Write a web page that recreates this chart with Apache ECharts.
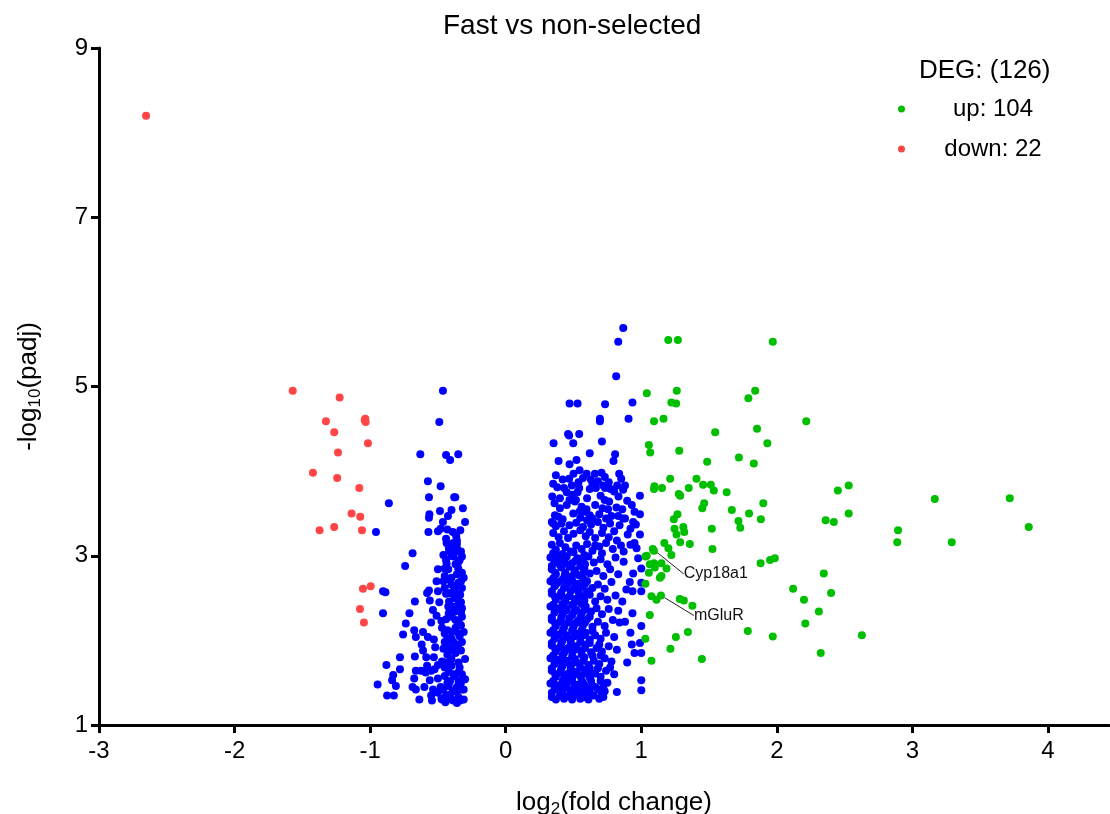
<!DOCTYPE html>
<html>
<head>
<meta charset="utf-8">
<title>Fast vs non-selected</title>
<script src="https://cdn.jsdelivr.net/npm/echarts@6/dist/echarts.min.js"></script>
<style>
html, body { margin: 0; padding: 0; background: #fff; }
#chart { width: 1110px; height: 814px; }
</style>
</head>
<body>
<div id="chart"></div>
<script>
// axis ticks
const xTicks = [-3, -2, -1, 0, 1, 2, 3, 4];
const yTicks = [1, 3, 5, 7, 9];

const upLabel = 'up: 104';
const downLabel = 'down: 22';
const degTitle = 'DEG: (126)';

// significant down-regulated (red)
const downPoints = [
    [-2.653, 8.20], [-1.571, 4.95], [-1.225, 4.87], [-1.326, 4.59], [-1.036, 4.62], [-1.033, 4.58],
    [-1.040, 4.60], [-1.265, 4.46], [-1.016, 4.33], [-1.237, 4.22], [-1.422, 3.98], [-1.243, 3.92],
    [-1.080, 3.80], [-1.137, 3.50], [-1.073, 3.46], [-1.265, 3.34], [-1.373, 3.30], [-1.060, 3.30],
    [-1.053, 2.61], [-0.996, 2.64], [-1.075, 2.37], [-1.046, 2.21]
];

// significant up-regulated (green)
const upPoints = [
    [1.199, 5.55], [1.27, 5.55], [1.97, 5.53], [1.041, 4.92], [1.262, 4.95], [1.84, 4.95], [1.79, 4.86],
    [1.222, 4.81], [1.257, 4.80], [1.094, 4.59], [1.164, 4.62], [2.217, 4.59], [1.545, 4.46], [1.854, 4.50],
    [1.93, 4.33], [1.056, 4.31], [1.066, 4.22], [1.28, 4.24], [1.72, 4.16], [1.83, 4.09], [1.486, 4.11],
    [1.213, 3.91], [1.407, 3.91], [1.097, 3.82], [1.094, 3.79], [1.153, 3.80], [1.277, 3.73], [1.287, 3.71],
    [1.35, 3.80], [1.456, 3.84], [1.513, 3.84], [1.535, 3.77], [1.63, 3.75], [2.45, 3.77], [2.53, 3.83],
    [1.90, 3.62], [1.464, 3.62], [1.45, 3.56], [1.267, 3.49], [1.24, 3.43], [1.245, 3.32], [1.26, 3.25],
    [1.31, 3.34], [1.317, 3.28], [1.668, 3.54], [1.795, 3.50], [1.717, 3.41], [1.73, 3.33], [1.882, 3.43],
    [2.36, 3.42], [2.42, 3.40], [2.53, 3.50], [2.894, 3.30], [2.888, 3.16], [1.52, 3.32], [1.287, 3.16],
    [1.358, 3.14], [1.525, 3.08], [1.17, 3.15], [1.20, 3.09], [1.222, 3.01], [1.093, 3.06], [1.03, 2.99],
    [1.063, 2.90], [1.094, 2.91], [1.149, 2.91], [1.186, 2.85], [1.056, 2.80], [1.149, 2.76], [1.137, 2.74],
    [1.88, 2.91], [1.95, 2.95], [1.985, 2.97], [2.346, 2.79], [1.03, 2.67], [2.12, 2.61], [2.20, 2.48],
    [2.40, 2.56], [2.31, 2.34], [2.21, 2.20], [2.627, 2.06], [1.075, 2.52], [1.112, 2.48], [1.284, 2.49],
    [1.314, 2.47], [1.377, 2.41], [1.063, 2.30], [1.03, 2.02], [1.255, 2.04], [1.344, 2.10], [1.786, 2.11],
    [1.97, 2.045], [1.215, 1.90], [1.075, 1.76], [1.447, 1.78], [2.324, 1.85], [3.718, 3.68], [3.858, 3.34],
    [3.165, 3.67], [3.29, 3.16], [1.04, 3.00], [1.10, 2.86]
];

// labelled genes (also up-regulated)
const geneNames = ['Cyp18a1', 'mGluR'];
const genePoints = [[1.085, 3.08], [1.145, 2.53]];

// not significant, negative fold change (blue)
const nsLeft = [
    [-0.463, 4.95], [-0.49, 4.58], [-0.63, 4.20], [-0.44, 4.19], [-0.41, 4.13], [-0.35, 4.20], [-0.574, 3.88],
    [-0.48, 3.82], [-0.566, 3.69], [-0.38, 3.69], [-0.372, 3.69], [-0.862, 3.62], [-0.485, 3.53], [-0.40, 3.54],
    [-0.316, 3.56], [-0.563, 3.49], [-0.566, 3.45], [-0.426, 3.47], [-0.30, 3.40], [-0.463, 3.40], [-0.957, 3.28],
    [-0.57, 3.28], [-0.50, 3.29], [-0.48, 3.32], [-0.43, 3.31], [-0.39, 3.28], [-0.365, 3.23], [-0.335, 3.30],
    [-0.42, 3.11], [-0.398, 3.08], [-0.36, 3.14], [-0.365, 3.05], [-0.418, 3.05],
    [-0.436, 3.15], [-0.386, 3.15], [-0.36, 3.09], [-0.418, 3.09], [-0.46, 3.01], [-0.386, 2.99], [-0.323, 2.99],
    [-0.348, 2.93], [-0.436, 2.91], [-0.687, 3.03], [-0.742, 2.88], [-0.50, 2.84], [-0.424, 2.84], [-0.36, 2.78],
    [-0.323, 2.80], [-0.31, 2.74], [-0.40, 2.74], [-0.45, 2.76], [-0.51, 2.70], [-0.40, 2.66], [-0.348, 2.68],
    [-0.45, 2.62], [-0.323, 2.62], [-0.375, 2.58], [-0.336, 2.54], [-0.905, 2.58], [-0.887, 2.57], [-0.566, 2.59],
    [-0.58, 2.56], [-0.50, 2.58], [-0.56, 2.47], [-0.67, 2.46], [-0.418, 2.46], [-0.348, 2.46], [-0.424, 2.40],
    [-0.323, 2.38], [-0.373, 2.34], [-0.398, 2.28], [-0.323, 2.28], [-0.348, 2.22], [-0.537, 2.36], [-0.51, 2.29],
    [-0.474, 2.23], [-0.55, 2.21], [-0.905, 2.32], [-0.71, 2.32], [-0.737, 2.20], [-0.757, 2.07], [-0.675, 2.12],
    [-0.663, 2.04], [-0.61, 2.10], [-0.574, 2.04], [-0.53, 2.01], [-0.45, 2.08], [-0.398, 2.10], [-0.348, 2.08],
    [-0.31, 2.10], [-0.45, 1.98], [-0.386, 1.98], [-0.323, 1.98], [-0.41, 1.90], [-0.348, 1.90], [-0.46, 1.90],
    [-0.61, 1.88], [-0.586, 1.80], [-0.53, 1.80], [-0.67, 1.81], [-0.78, 1.80], [-0.50, 1.71], [-0.436, 1.74],
    [-0.348, 1.74], [-0.30, 1.78], [-0.40, 1.78], [-0.88, 1.71], [-0.78, 1.66], [-0.663, 1.64], [-0.624, 1.64],
    [-0.59, 1.62], [-0.55, 1.64], [-0.525, 1.66], [-0.83, 1.59], [-0.838, 1.53], [-0.675, 1.55], [-0.56, 1.53],
    [-0.45, 1.58], [-0.386, 1.60], [-0.323, 1.60], [-0.41, 1.52], [-0.348, 1.52], [-0.30, 1.54], [-0.945, 1.48],
    [-0.81, 1.46], [-0.687, 1.45], [-0.663, 1.42], [-0.536, 1.42], [-0.46, 1.42], [-0.42, 1.46], [-0.36, 1.45],
    [-0.323, 1.42], [-0.50, 1.38], [-0.875, 1.35], [-0.825, 1.35], [-0.637, 1.30], [-0.544, 1.29], [-0.474, 1.31],
    [-0.424, 1.33], [-0.386, 1.29], [-0.336, 1.29], [-0.31, 1.42], [-0.445, 1.27], [-0.36, 1.26],
    [-0.44, 3.20], [-0.36, 3.18], [-0.40, 3.00], [-0.33, 3.05], [-0.44, 2.95], [-0.37, 2.90], [-0.42, 2.72],
    [-0.33, 2.70], [-0.38, 2.50], [-0.44, 2.55], [-0.33, 2.45], [-0.41, 2.36], [-0.35, 2.40], [-0.44, 2.25],
    [-0.37, 2.15], [-0.43, 2.12], [-0.33, 2.18], [-0.40, 2.02], [-0.34, 2.05], [-0.44, 1.96], [-0.37, 1.85],
    [-0.43, 1.83], [-0.33, 1.88], [-0.40, 1.70], [-0.34, 1.68], [-0.45, 1.68], [-0.38, 1.58], [-0.43, 1.50],
    [-0.33, 1.50], [-0.39, 1.40], [-0.44, 1.35], [-0.35, 1.33], [-0.40, 1.30], [-0.47, 1.30], [-0.48, 1.45],
    [-0.50, 1.55], [-0.47, 1.75], [-0.52, 1.92], [-0.47, 2.15], [-0.49, 2.45], [-0.46, 2.70], [-0.55, 1.35],
    [-0.60, 1.45], [-0.58, 1.70], [-0.62, 1.95],
    [-0.34, 2.95], [-0.38, 2.62], [-0.42, 2.32], [-0.36, 1.95], [-0.42, 1.63], [-0.36, 1.40], [-0.31, 1.30],
    [-0.45, 2.85], [-0.39, 3.10], [-0.35, 2.85], [-0.41, 2.56], [-0.37, 2.24], [-0.39, 1.88], [-0.35, 1.62],
    [-0.41, 1.36], [-0.33, 2.33], [-0.39, 2.40], [-0.43, 2.02]
];

// not significant, positive fold change (blue)
const nsRight = [
    [0.867, 5.69], [0.83, 5.53], [0.815, 5.12], [0.471, 4.80], [0.53, 4.80], [0.733, 4.79], [0.935, 4.81],
    [0.695, 4.62], [0.695, 4.59], [0.906, 4.62], [0.46, 4.44], [0.468, 4.42], [0.542, 4.44], [0.353, 4.33],
    [0.498, 4.33], [0.71, 4.35], [0.62, 4.21], [0.807, 4.20], [0.795, 4.12], [0.39, 4.12], [0.471, 4.08],
    [0.522, 4.13], [0.545, 4.01], [0.597, 3.97], [0.658, 3.97], [0.707, 3.98], [0.731, 3.93], [0.837, 3.97],
    [0.852, 3.91], [0.468, 3.91], [0.628, 3.90], [0.537, 3.87], [0.38, 3.81], [0.43, 3.80], [0.488, 3.83],
    [0.542, 3.80], [0.62, 3.79], [0.665, 3.80], [0.719, 3.83], [0.733, 3.80], [0.773, 3.79], [0.822, 3.83],
    [0.866, 3.78], [0.343, 3.70], [0.493, 3.72], [0.518, 3.66], [0.53, 3.75], [0.70, 3.71], [0.763, 3.64],
    [0.832, 3.70], [0.896, 3.65], [0.99, 3.71], [0.363, 3.48], [0.388, 3.46], [0.498, 3.50], [0.547, 3.53],
    [0.596, 3.55], [0.62, 3.48], [0.714, 3.56], [0.755, 3.55], [0.817, 3.57], [0.866, 3.44], [0.99, 3.49],
    [0.51, 3.64], [0.56, 3.58], [0.58, 3.52], [0.45, 3.60], [0.40, 3.56], [0.36, 3.62], [0.66, 3.60],
    [0.69, 3.49], [0.78, 3.47], [0.64, 3.44], [0.60, 3.42], [0.55, 3.45], [0.42, 3.43], [0.35, 3.38],
    [0.37, 3.95], [0.42, 3.90], [0.50, 3.97], [0.57, 3.92], [0.64, 3.85], [0.68, 3.88], [0.76, 3.87],
    [0.80, 3.76], [0.88, 3.83], [0.93, 3.60], [0.35, 3.85], [0.45, 3.75], [0.60, 3.68], [0.73, 3.66],
    [0.86, 3.55], [0.95, 3.52], [0.40, 3.68], [0.47, 3.66],
    [0.34, 3.40], [0.37, 3.35], [0.41, 3.38], [0.47, 3.36], [0.52, 3.39], [0.57, 3.34], [0.63, 3.37],
    [0.68, 3.40], [0.72, 3.33], [0.77, 3.38], [0.84, 3.36], [0.88, 3.44], [0.94, 3.40],
    [0.35, 3.27], [0.39, 3.22], [0.43, 3.29], [0.46, 3.21], [0.50, 3.26], [0.55, 3.30], [0.59, 3.23],
    [0.62, 3.28], [0.66, 3.21], [0.71, 3.27], [0.76, 3.22], [0.80, 3.29], [0.90, 3.25], [0.99, 3.25],
    [0.82, 3.18], [0.87, 3.05], [0.92, 3.32], [0.96, 3.37], [0.74, 3.44], [0.66, 3.12], [0.71, 3.03], [0.83, 3.47],
    [0.34, 3.13], [0.37, 3.07], [0.40, 3.15], [0.44, 3.10], [0.48, 3.05], [0.52, 3.12], [0.56, 3.08],
    [0.60, 3.14], [0.64, 3.06], [0.69, 3.11], [0.74, 3.15], [0.79, 3.08], [0.85, 3.12], [0.95, 3.15],
    [0.92, 3.13], [0.965, 3.09],
    [0.33, 2.98], [0.36, 2.92], [0.39, 3.00], [0.42, 2.94], [0.45, 2.99], [0.49, 2.91], [0.53, 2.97],
    [0.57, 2.93], [0.61, 2.99], [0.65, 2.92], [0.70, 2.96], [0.75, 2.90], [0.81, 2.98], [0.87, 2.93], [0.977, 2.97],
    [0.34, 2.84], [0.37, 2.78], [0.41, 2.86], [0.44, 2.80], [0.47, 2.75], [0.51, 2.83], [0.54, 2.77],
    [0.58, 2.85], [0.62, 2.79], [0.67, 2.82], [0.72, 2.76], [0.77, 2.84], [0.83, 2.78], [1.0, 2.85], [0.94, 2.79],
    [0.33, 2.70], [0.36, 2.64], [0.39, 2.69], [0.43, 2.62], [0.46, 2.68], [0.50, 2.61], [0.53, 2.67],
    [0.56, 2.63], [0.60, 2.70], [0.64, 2.62], [0.68, 2.66], [0.73, 2.61], [0.78, 2.69], [0.915, 2.69],
    [1.0, 2.68], [0.89, 2.60], [0.935, 2.58], [1.0, 2.58],
    [0.34, 2.55], [0.37, 2.48], [0.40, 2.53], [0.44, 2.46], [0.47, 2.52], [0.51, 2.45], [0.55, 2.51],
    [0.58, 2.47], [0.62, 2.54], [0.66, 2.46], [0.70, 2.52], [0.75, 2.48], [0.81, 2.53], [0.86, 2.46],
    [0.33, 2.40], [0.36, 2.33], [0.39, 2.38], [0.42, 2.31], [0.45, 2.37], [0.49, 2.30], [0.52, 2.36],
    [0.56, 2.32], [0.59, 2.40], [0.63, 2.34], [0.67, 2.38], [0.71, 2.31], [0.76, 2.37], [0.935, 2.32], [0.83, 2.35],
    [0.34, 2.24], [0.37, 2.17], [0.40, 2.22], [0.43, 2.15], [0.46, 2.21], [0.50, 2.16], [0.53, 2.23],
    [0.57, 2.18], [0.60, 2.25], [0.64, 2.16], [0.68, 2.22], [0.73, 2.17], [0.79, 2.24], [0.88, 2.22],
    [0.84, 2.21], [1.0, 2.17],
    [0.33, 2.09], [0.36, 2.02], [0.39, 2.07], [0.42, 2.00], [0.45, 2.06], [0.48, 2.01], [0.52, 2.08],
    [0.55, 2.03], [0.59, 2.09], [0.62, 2.01], [0.66, 2.06], [0.70, 2.02], [0.74, 2.09], [0.92, 2.09], [0.80, 2.04],
    [0.34, 1.94], [0.37, 1.87], [0.40, 1.92], [0.43, 1.85], [0.46, 1.91], [0.49, 1.86], [0.52, 1.93],
    [0.56, 1.88], [0.59, 1.95], [0.63, 1.86], [0.67, 1.91], [0.71, 1.87], [0.76, 1.93], [0.99, 1.97],
    [0.93, 1.95], [0.95, 1.85], [1.0, 1.85], [0.82, 1.89],
    [0.33, 1.79], [0.36, 1.72], [0.39, 1.77], [0.42, 1.70], [0.45, 1.76], [0.48, 1.71], [0.51, 1.78],
    [0.54, 1.73], [0.58, 1.80], [0.61, 1.71], [0.65, 1.76], [0.69, 1.72], [0.73, 1.79], [0.896, 1.74], [0.78, 1.75],
    [0.34, 1.64], [0.37, 1.57], [0.40, 1.62], [0.43, 1.55], [0.46, 1.61], [0.49, 1.56], [0.52, 1.63],
    [0.55, 1.58], [0.58, 1.65], [0.62, 1.56], [0.66, 1.61], [0.70, 1.57], [0.74, 1.64], [0.80, 1.60], [1.0, 1.53],
    [0.33, 1.49], [0.36, 1.42], [0.39, 1.47], [0.42, 1.40], [0.45, 1.46], [0.48, 1.41], [0.51, 1.48],
    [0.54, 1.43], [0.57, 1.50], [0.60, 1.41], [0.64, 1.46], [0.68, 1.42], [0.72, 1.45], [0.82, 1.39], [1.0, 1.41],
    [0.34, 1.33], [0.37, 1.30], [0.40, 1.35], [0.43, 1.31], [0.46, 1.34], [0.49, 1.30], [0.52, 1.36],
    [0.55, 1.31], [0.58, 1.33], [0.61, 1.30], [0.65, 1.35], [0.69, 1.31],
    [0.72, 1.33], [0.75, 1.50], [0.77, 1.68], [0.66, 1.45], [0.59, 1.36], [0.63, 1.60], [0.69, 1.95],
    [0.73, 1.40], [0.53, 1.47], [0.45, 1.52],
    [0.35, 3.03], [0.42, 3.02], [0.50, 3.04], [0.58, 3.01], [0.34, 2.88], [0.40, 2.89], [0.47, 2.87],
    [0.55, 2.88], [0.35, 2.73], [0.42, 2.72], [0.49, 2.71], [0.57, 2.73], [0.34, 2.58], [0.41, 2.57],
    [0.48, 2.58], [0.54, 2.56], [0.60, 2.58], [0.35, 2.42], [0.42, 2.43], [0.49, 2.42], [0.56, 2.43],
    [0.34, 2.27], [0.41, 2.27], [0.47, 2.26], [0.55, 2.27], [0.62, 2.28], [0.35, 2.12], [0.42, 2.11],
    [0.49, 2.12], [0.56, 2.12], [0.64, 2.11], [0.34, 1.97], [0.41, 1.97], [0.48, 1.97], [0.55, 1.98],
    [0.62, 1.97], [0.35, 1.82], [0.42, 1.82], [0.49, 1.81], [0.56, 1.83], [0.64, 1.82], [0.70, 1.82],
    [0.34, 1.67], [0.41, 1.67], [0.48, 1.67], [0.55, 1.68], [0.62, 1.67], [0.68, 1.67], [0.35, 1.52],
    [0.42, 1.52], [0.49, 1.52], [0.56, 1.53], [0.63, 1.52], [0.70, 1.52], [0.34, 1.38], [0.41, 1.38],
    [0.48, 1.37], [0.55, 1.38], [0.62, 1.38], [0.71, 1.37],
    [0.37, 2.95], [0.44, 2.91], [0.515, 2.94], [0.585, 2.90], [0.365, 2.80], [0.435, 2.77], [0.505, 2.79],
    [0.575, 2.81], [0.37, 2.66], [0.445, 2.65], [0.515, 2.64], [0.585, 2.67], [0.365, 2.51], [0.43, 2.50],
    [0.51, 2.49], [0.575, 2.52], [0.37, 2.36], [0.44, 2.35], [0.505, 2.34], [0.58, 2.36], [0.365, 2.20],
    [0.435, 2.19], [0.515, 2.20], [0.585, 2.21], [0.37, 2.05], [0.445, 2.04], [0.505, 2.05], [0.575, 2.06],
    [0.365, 1.90], [0.44, 1.89], [0.51, 1.89], [0.585, 1.91], [0.37, 1.75], [0.435, 1.74], [0.505, 1.74],
    [0.575, 1.76], [0.365, 1.60], [0.44, 1.59], [0.51, 1.60], [0.585, 1.61], [0.37, 1.45], [0.435, 1.44],
    [0.515, 1.44], [0.585, 1.46]
];

const fontFamily = '"Liberation Sans", Arial, sans-serif';
const blue = '#0000ff';
const green = '#00bf00';
const red = '#ff4545';
const dotSize = 8;

const chart = echarts.init(document.getElementById('chart'), null, { renderer: 'canvas' });

const option = {
    animation: false,
    backgroundColor: '#fff',
    textStyle: { fontFamily: fontFamily, color: '#000' },
    title: {
        text: 'Fast vs non-selected',
        left: 438,
        top: 7,
        textStyle: { fontFamily: fontFamily, fontSize: 28, fontWeight: 'normal', color: '#000' }
    },
    // keep the plot box fixed: no shrinking to fit axis names
    grid: { left: 99, right: 1, top: 48, bottom: 89, containLabel: false, outerBoundsMode: 'none' },
    legend: {
        orient: 'vertical',
        left: 893,
        top: 92,
        itemWidth: 7,
        itemHeight: 7,
        itemGap: 16,
        icon: 'circle',
        data: [upLabel, downLabel],
        formatter: name => '{t|' + name + '}',
        textStyle: {
            rich: { t: { width: 166, align: 'center', fontSize: 24, lineHeight: 24, fontFamily: fontFamily, color: '#000' } }
        }
    },
    graphic: [{
        type: 'text',
        left: 919,
        top: 58,
        style: { text: degTitle, fontSize: 26, fontFamily: fontFamily, fill: '#000' }
    }],
    xAxis: {
        type: 'value',
        min: -3,
        max: 4.45,
        name: '{a|log}{s|2}{a|(fold change)}',
        nameLocation: 'middle',
        nameGap: 62,
        nameTextStyle: {
            padding: [0, 0, 0, 20],
            rich: {
                a: { fontSize: 26, fontFamily: fontFamily, color: '#000' },
                s: { fontSize: 17, fontFamily: fontFamily, color: '#000', padding: [14, 0, 0, 0] }
            }
        },
        splitLine: { show: false },
        axisLine: { onZero: false, lineStyle: { color: '#000', width: 3 } },
        axisTick: { customValues: xTicks, length: 8, lineStyle: { color: '#000', width: 3 } },
        axisLabel: { customValues: xTicks, margin: 14, fontSize: 24, fontFamily: fontFamily, color: '#000' }
    },
    yAxis: {
        type: 'value',
        min: 1,
        max: 9,
        name: '{a|-log}{s|10}{a|(padj)}',
        nameLocation: 'middle',
        nameGap: 55,
        nameRotate: 90,
        nameTextStyle: {
            rich: {
                a: { fontSize: 26, fontFamily: fontFamily, color: '#000' },
                s: { fontSize: 17, fontFamily: fontFamily, color: '#000', padding: [14, 0, 0, 0] }
            }
        },
        splitLine: { show: false },
        axisLine: { onZero: false, lineStyle: { color: '#000', width: 3 } },
        axisTick: { customValues: yTicks, length: 8, lineStyle: { color: '#000', width: 3 } },
        axisLabel: { customValues: yTicks, margin: 11, fontSize: 24, fontFamily: fontFamily, color: '#000' }
    },
    series: [
        {
            name: 'ns',
            type: 'scatter',
            symbolSize: dotSize,
            itemStyle: { color: blue, opacity: 1 },
            data: nsLeft.concat(nsRight)
        },
        {
            name: downLabel,
            type: 'scatter',
            symbolSize: dotSize,
            itemStyle: { color: red, opacity: 1 },
            data: downPoints
        },
        {
            name: upLabel,
            type: 'scatter',
            symbolSize: dotSize,
            itemStyle: { color: green, opacity: 1 },
            data: upPoints
        },
        {
            name: 'genes',
            type: 'scatter',
            symbolSize: dotSize,
            itemStyle: { color: green, opacity: 1 },
            data: genePoints.map((p, i) => ({ name: geneNames[i], value: p })),
            label: {
                show: true,
                position: 'right',
                formatter: '{b}',
                fontSize: 16,
                fontFamily: fontFamily,
                color: '#111'
            },
            labelLine: { show: true, lineStyle: { color: '#222', width: 1 } },
            labelLayout: params => params.dataIndex === 0 ? { dx: 22, dy: 25 } : { dx: 24, dy: 20 }
        }
    ]
};

chart.setOption(option);
</script>
</body>
</html>
